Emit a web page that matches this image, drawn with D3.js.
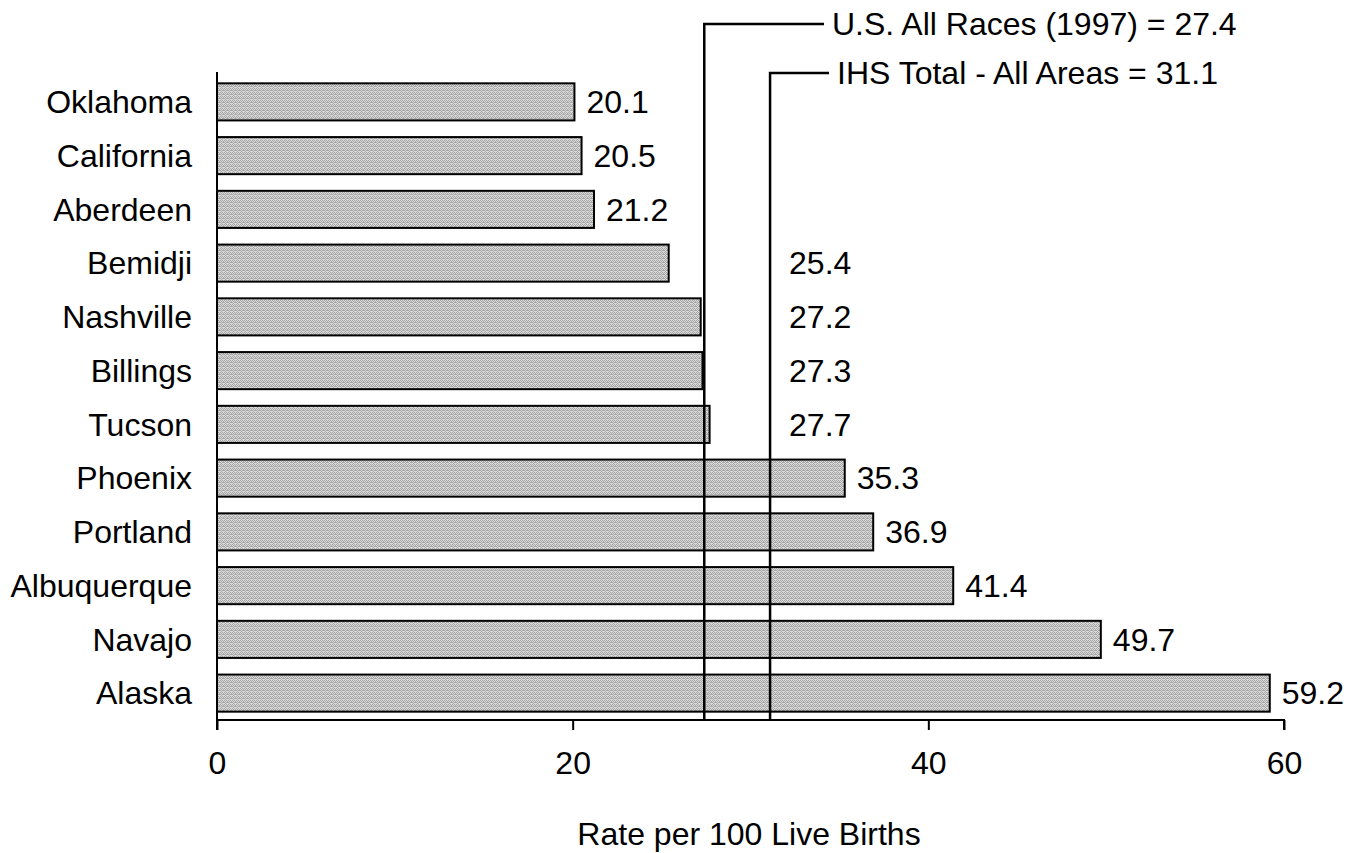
<!DOCTYPE html>
<html>
<head>
<meta charset="utf-8">
<script src="https://cdn.jsdelivr.net/npm/d3@7"></script>
<style>
  html, body { margin: 0; padding: 0; background: #fff; }
  svg { display: block; }
  text { font-family: "Liberation Sans", Arial, sans-serif; fill: #000; }
</style>
</head>
<body>
<div id="chart"></div>
<script>
// ---- Data ----
const categories = ["Oklahoma", "California", "Aberdeen", "Bemidji", "Nashville", "Billings",
                    "Tucson", "Phoenix", "Portland", "Albuquerque", "Navajo", "Alaska"];
const values = [20.1, 20.5, 21.2, 25.4, 27.2, 27.3, 27.7, 35.3, 36.9, 41.4, 49.7, 59.2];
const xTicks = [0, 20, 40, 60];
const refNames = ["U.S. All Races (1997) = 27.4", "IHS Total - All Areas = 31.1"];
const refValues = [27.4, 31.1];
const axisTitle = "Rate per 100 Live Births";

// ---- Layout ----
const W = 1353, H = 853;
const x0 = 217, x1 = 1284;
const yTop = 75, yBottom = 720;
const fontSize = 32;

const svg = d3.select("#chart").append("svg")
  .attr("width", W).attr("height", H);

// dither pattern for bars
const defs = svg.append("defs");
const pat = defs.append("pattern")
  .attr("id", "dither").attr("patternUnits", "userSpaceOnUse")
  .attr("width", 4).attr("height", 4);
pat.append("rect").attr("width", 4).attr("height", 4).attr("fill", "#d8d8d8");
[[0,0],[2,0],[1,1],[3,2],[0,2],[2,2],[1,3],[3,1]].forEach(([px,py]) => {
  pat.append("rect").attr("x", px).attr("y", py).attr("width", 1).attr("height", 1).attr("fill", "#a8a8a8");
});

const x = d3.scaleLinear().domain([0, 60]).range([x0, x1]);
const y = d3.scaleBand().domain(categories).range([yTop, yBottom]).paddingInner(0.31).paddingOuter(0.155);

// bars
svg.append("g").selectAll("rect")
  .data(categories)
  .join("rect")
  .attr("x", x(0))
  .attr("y", d => y(d))
  .attr("width", (d, i) => x(values[i]) - x(0))
  .attr("height", y.bandwidth())
  .attr("fill", "url(#dither)")
  .attr("stroke", "#000")
  .attr("stroke-width", 2);

// reference lines
const refTopY = [24, 73];
const refTextX = [832, 837];
const refG = svg.append("g");
refValues.forEach((v, i) => {
  const xv = x(v);
  refG.append("path")
    .attr("d", `M${xv},${yBottom} V${refTopY[i]} H${refTextX[i] - 8}`)
    .attr("fill", "none").attr("stroke", "#000").attr("stroke-width", 2.5);
  refG.append("text")
    .attr("x", refTextX[i]).attr("y", refTopY[i])
    .attr("dy", "0.35em")
    .attr("font-size", fontSize)
    .text(refNames[i]);
});

// value labels (moved to the right of the reference lines where they would cross them)
const xUS = x(refValues[0]), xIHS = x(refValues[1]);
svg.append("g").selectAll("text")
  .data(categories)
  .join("text")
  .attr("font-size", fontSize)
  .attr("y", d => y(d) + y.bandwidth() / 2)
  .attr("dy", "0.35em")
  .text((d, i) => values[i].toFixed(1))
  .attr("x", function(d, i) {
    const end = x(values[i]);
    let lx = end + 12;
    const w = this.getComputedTextLength();
    if (end < xIHS && lx + w > xUS - 4) lx = xIHS + 19;
    return lx;
  });

// y axis (line only) and category labels
svg.append("line")
  .attr("x1", x0).attr("x2", x0).attr("y1", 72).attr("y2", yBottom)
  .attr("stroke", "#000").attr("stroke-width", 2);
svg.append("g").selectAll("text")
  .data(categories)
  .join("text")
  .attr("x", 192)
  .attr("y", d => y(d) + y.bandwidth() / 2)
  .attr("dy", "0.35em")
  .attr("text-anchor", "end")
  .attr("font-size", fontSize)
  .text(d => d);

// x axis
const xAxis = svg.append("g")
  .attr("transform", `translate(0,${yBottom})`)
  .call(d3.axisBottom(x).tickValues(xTicks).tickSize(10).tickPadding(21).tickFormat(d3.format("d")));
xAxis.select(".domain").attr("stroke", "#000").attr("stroke-width", 2)
  .attr("d", `M${x0},10V0H${x1}V10`);
xAxis.selectAll(".tick line").attr("stroke", "#000").attr("stroke-width", 2);
xAxis.selectAll(".tick text")
  .attr("font-size", fontSize)
  .attr("font-family", "Liberation Sans, Arial, sans-serif")
  .attr("fill", "#000");

// axis title
svg.append("text")
  .attr("x", 749).attr("y", 845)
  .attr("text-anchor", "middle")
  .attr("font-size", fontSize)
  .text(axisTitle);
</script>
</body>
</html>
